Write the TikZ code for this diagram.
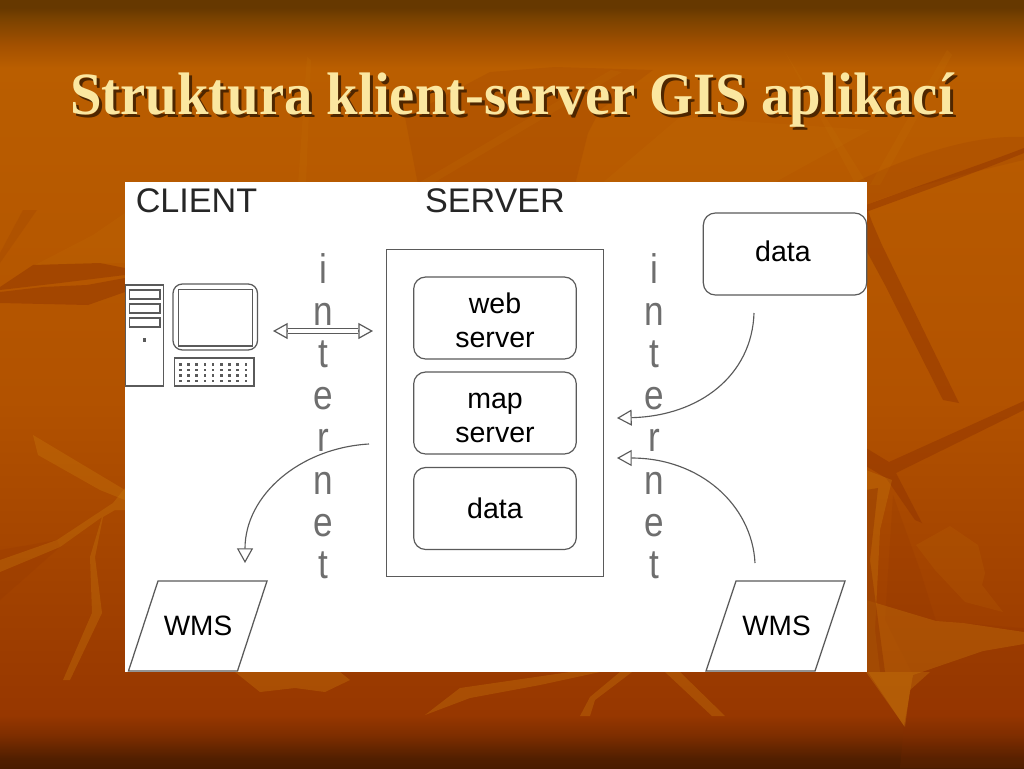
\documentclass[tikz,border=0pt]{standalone}
\usepackage{fontspec}
\setmainfont{Liberation Sans}
\newfontfamily\titlefont{Liberation Serif}
\usetikzlibrary{arrows.meta}
\definecolor{veind}{HTML}{8A2E00}
\definecolor{veinl}{HTML}{C8780C}
\definecolor{linegray}{HTML}{5A5A5A}
\definecolor{lettergray}{HTML}{6E6E6E}
\definecolor{titlecol}{HTML}{FBE7A0}
\definecolor{titleshade}{HTML}{4E2600}
\definecolor{HTML4A}{HTML}{4A1C00}
\definecolor{HTML52}{HTML}{521F00}
\definecolor{HTML7E}{HTML}{7E2E00}
\definecolor{HTML97}{HTML}{973700}
\definecolor{HTMLB2}{HTML}{B25200}
\definecolor{HTMLBA}{HTML}{BA5E00}
\definecolor{HTMLAA}{HTML}{A25000}
\definecolor{HTML6E}{HTML}{7A4200}
\definecolor{HTML66}{HTML}{663800}
\pgfdeclareverticalshading{slidebg}{100bp}{
  color(0bp)=(HTML4A);color(25bp)=(HTML4A);color(25.65bp)=(HTML52);color(27.15bp)=(HTML7E);
  color(28.45bp)=(HTML97);color(49bp)=(HTMLB2);color(70.6bp)=(HTMLBA);
  color(72.1bp)=(HTMLAA);color(73.8bp)=(HTML6E);color(74.5bp)=(HTML66);color(75bp)=(HTML66);color(100bp)=(HTML66)}
\tikzset{
  x=0.75pt,y=-0.75pt,
  box/.style={draw=linegray,line width=0.9pt,rounded corners=9pt,fill=white,align=center,font=\fontsize{21.4}{25.5}\selectfont,inner sep=0pt,minimum width=122pt,minimum height=61.5pt},
  hdr/.style={font=\fontsize{25.6}{27}\selectfont,inner sep=0pt,text=black!85},
  para/.style={font=\fontsize{21}{24}\selectfont,inner sep=0pt},
  letters/.style={font=\fontsize{31}{31.6}\selectfont,text=lettergray,align=center,inner sep=0pt,xscale=0.85,transform shape},
  flow/.style={draw=linegray,line width=0.85pt,-{Triangle[open,length=11pt,width=12pt,fill=white]}},
  both/.style={draw=linegray,line width=0.9pt,{Triangle[open,length=11pt,width=12pt,fill=white]}-{Triangle[open,length=11pt,width=12pt,fill=white]}},
  hw/.style={draw=linegray,line width=0.95pt},
  leafd/.style={fill=veind,fill opacity=0.4},
  leaff/.style={fill=veind,fill opacity=0.14},
  leafl/.style={fill=veinl,fill opacity=0.35},
  leafg/.style={fill=veinl,fill opacity=0.14},
}
\newcommand{\titletext}{Struktura klient-server GIS aplikací}
\begin{document}
\begin{tikzpicture}
\useasboundingbox (0,0) rectangle (1024,768);
% background
\shade[shading=slidebg] (0,0) rectangle (1024,768);
% faint leaf behind the title
\fill[leaff] (405,117) -- (490,72) -- (555,67) -- (653,70) -- (600,110) -- (588,133) -- (575,185) -- (418,185) -- cycle;
\fill[leafg] (611,70) -- (622,72) -- (430,185) -- (415,185) -- cycle;
\fill[leafg] (307,57) -- (311,60) -- (306,185) -- (298,185) -- cycle;
\fill[leafg] (784,50) -- (790,60) -- (868,185) -- (856,185) -- cycle;
\fill[leafg] (947,50) -- (952,55) -- (880,185) -- (870,185) -- cycle;
\fill[leafg] (680,117) -- (870,130) -- (770,185) -- (600,185) -- cycle;
% upper right
\fill[leaff] (850,185) .. controls (920,150) and (980,135) .. (1024,137) -- (1024,160) .. controls (960,175) and (900,190) .. (866,205) -- (866,185) -- cycle;
\fill[leafd] (866,205) .. controls (920,185) and (980,165) .. (1024,148) -- (1024,153) .. controls (970,175) and (920,192) .. (866,212) -- cycle;
\fill[leafd] (866,205) -- (872,222) -- (882,245) -- (959,403) -- (943,400) -- (885,285) -- (866,250) -- cycle;
% right veins
\fill[leafd] (866,448) -- (889,462) -- (1024,401) -- (1024,410) -- (896,473) -- (922,523) -- (915,520) -- (886,478) -- (866,466) -- cycle;
% lower right leaf
\fill[leaff] (893,495) -- (920,570) -- (936,621) -- (1024,628) -- (1024,768) -- (900,768) -- (904,726) -- (913,675) -- (885,620) -- cycle;
\fill[leafg] (916,545) -- (950,526) -- (978,545) -- (985,573) -- (982,585) -- (1003,612) -- (965,602) -- (935,570) -- cycle;
\fill[leafl] (936,621) -- (963,623) -- (1024,632) -- (1024,644) -- (983,651) -- (913,675) -- (904,726) -- (866,669) -- (866,600) -- cycle;
\fill[leafl] (866,470) -- (892,480) -- (880,530) -- (875,630) -- (880,672) -- (866,672) -- cycle;
\fill[leafd] (866,490) -- (878,488) -- (870,560) -- (885,672) -- (866,672) -- cycle;
% upper left
\fill[leafg] (35,265) -- (93,235) -- (125,213) -- (125,263) -- cycle;
\fill[leaff] (0,253) -- (23,210) -- (37,210) -- (0,263) -- cycle;
\fill[leafd] (0,287) -- (33,265) -- (100,263) -- (125,268) -- (125,275) -- (60,283) -- (0,290) -- cycle;
\fill[leafd] (0,292) -- (43,287) -- (87,285) -- (125,278) -- (125,292) -- (88,305) -- (0,303) -- cycle;
% lower left
\fill[leaff] (0,550) -- (57,540) -- (60,547) -- (0,600) -- cycle;
\fill[leafl] (33,435) -- (125,490) -- (125,500) -- (100,490) -- (38,455) -- cycle;
\fill[leafl] (125,488) -- (125,510) -- (115,510) -- (103,517) -- (95,557) -- (102,613) -- (70,680) -- (63,680) -- (92,613) -- (90,557) -- (102,517) -- (60,547) -- (0,572) -- (0,560) -- (57,540) -- (113,503) -- cycle;
% below the panel
\fill[leafl] (235,672) -- (260,692) -- (295,688) -- (325,692) -- (350,680) -- (340,672) -- cycle;
\fill[leafl] (425,715) -- (470,698) -- (540,685) -- (600,672) -- (570,672) -- (460,688) -- cycle;
\fill[leafl] (620,672) -- (590,697) -- (580,716) -- (590,716) -- (595,700) -- (632,672) -- cycle;
\fill[leafl] (665,672) -- (712,716) -- (725,716) -- (680,672) -- cycle;
\fill[leafl] (866,672) -- (905,727) -- (910,690) -- (930,672) -- cycle;
% title
\node[font=\titlefont\bfseries\fontsize{45}{48}\selectfont,text=titlecol,inner sep=0pt,xscale=0.945,transform shape] (title) at (512,102) {\rlap{\raisebox{-2.2pt}{\hspace{2.4pt}\textcolor{titleshade}{\titletext}}}\titletext};
% panel
\fill[white] (125,182) rectangle (867,672);
\node[hdr] (client) at (196.5,200.5) {CLIENT};
\node[hdr] (server) at (495,200.5) {SERVER};
% server frame
\node[draw=linegray,line width=0.9pt,minimum width=162.75pt,minimum height=245pt,inner sep=0pt] (frame) at (495,413) {};
\node[box] (web) at (495,318) {\rule{0pt}{19pt}web\\server};
\node[box] (map) at (495,413) {\rule{0pt}{19pt}map\\server};
\node[box] (sdata) at (495,508.5) {data};
\node[box,minimum width=122.5pt] (rdata) at (785,254) {\rule[-4.5pt]{0pt}{4.5pt}\hspace{-3pt}data};
% letters
\node[letters] (inetl) at (323.5,416) {i\\n\\t\\e\\r\\n\\e\\t};
\node[letters] (inetr) at (654.5,416) {i\\n\\t\\e\\r\\n\\e\\t};
% computer
\draw[hw] (125.5,285) rectangle (163.5,386);
\draw[hw] (129.5,290) rectangle (160,299);
\draw[hw] (129.5,304) rectangle (160,313);
\draw[hw] (129.5,318) rectangle (160,327);
\fill[linegray] (142.5,338) rectangle (146,342);
\draw[hw,rounded corners=7pt] (173,284) rectangle (257.5,350);
\draw[hw,line width=1.3pt] (178.5,289.5) rectangle (252.5,346);
\draw[hw] (174.5,358) rectangle (254,386);
\foreach \cx in {179,187.2,...,245}{\foreach \cy in {363,368.5,...,380}{\fill[linegray] (\cx,\cy) rectangle (\cx+2.6,\cy+2.6);}}
% WMS
\draw[hw] (158,581) -- (267,581) -- (237.5,671) -- (128.5,671) -- cycle;
\node[para] (wmsl) at (198,626) {WMS};
\draw[hw] (736,581) -- (845,581) -- (815,671) -- (706,671) -- cycle;
\node[para] (wmsr) at (776.5,626) {WMS};
% connectors
\coordinate (dl) at (273,331);
\coordinate (dr) at (373,331);
\draw[both] (dl) -- (dr);
\draw[linegray,line width=0.9pt,double=white,double distance=3.2pt,shorten <=11pt,shorten >=11pt] (dl) -- (dr);
\coordinate (a1s) at (754,313);
\coordinate (a1e) at (617,418);
\draw[flow] (a1s) .. controls (752,375) and (700,416) .. (a1e);
\coordinate (a2s) at (755,563);
\coordinate (a2e) at (617,458);
\draw[flow] (a2s) .. controls (752,505) and (700,458) .. (a2e);
\coordinate (a3s) at (369,444);
\coordinate (a3e) at (245,563);
\draw[flow] (a3s) .. controls (300,448) and (245,495) .. (a3e);
\end{tikzpicture}
\end{document}
